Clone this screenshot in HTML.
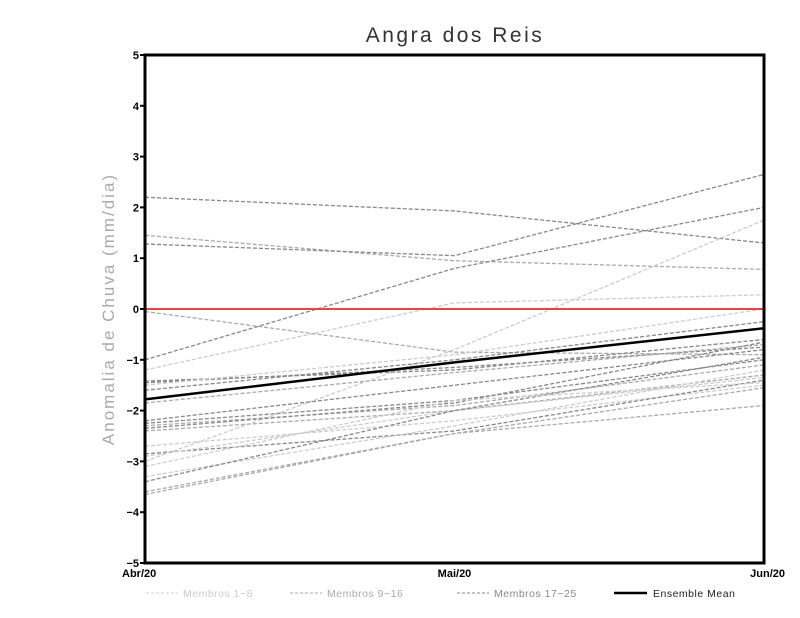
<!DOCTYPE html>
<html><head><meta charset="utf-8"><style>
body{margin:0;background:#fff}
svg{display:block;font-family:"Liberation Sans",sans-serif}
</style></head><body>
<svg id="chart" width="800" height="618" viewBox="0 0 800 618">
<text x="455" y="42" text-anchor="middle" font-size="21" fill="#333" letter-spacing="2.5">Angra dos Reis</text>
<text transform="translate(114,309) rotate(-90)" text-anchor="middle" font-size="17" fill="#aaa" letter-spacing="2">Anomalia de Chuva (mm/dia)</text>
<g id="yticks"></g>
<g id="xticks"></g>
<g id="series"></g>
<line x1="145" y1="309" x2="764" y2="309" stroke="#f04040" stroke-width="2"/>
<g id="meang"></g>
<rect x="145" y="55" width="619" height="508" fill="none" stroke="#000" stroke-width="3"/>
<g font-size="10.5" letter-spacing="0.5">
<line x1="146" y1="593" x2="178" y2="593" stroke="#ccc" stroke-dasharray="3,2"/>
<text x="183" y="597" fill="#ccc">Membros 1−8</text>
<line x1="290" y1="593" x2="322" y2="593" stroke="#aaa" stroke-dasharray="3,2"/>
<text x="327" y="597" fill="#aaa">Membros 9−16</text>
<line x1="457" y1="593" x2="489" y2="593" stroke="#888" stroke-dasharray="3,2"/>
<text x="494" y="597" fill="#888">Membros 17−25</text>
<line x1="614" y1="593" x2="647" y2="593" stroke="#000" stroke-width="2.5"/>
<text x="653" y="597" fill="#222">Ensemble Mean</text>
</g>
</svg>
<script>
const categories = ["Abr/20","Mai/20","Jun/20"];
const yTickValues = [-5,-4,-3,-2,-1,0,1,2,3,4,5];
const yTickLabels = ["−5","−4","−3","−2","−1","0","1","2","3","4","5"];
const memberGroups = [3,2,3,3,1,2,1,3,3,1,3,2,3,3,2,3,2,1,3,1,1,3,2,2,1];
const members = [
[2.2,1.93,1.3],[1.45,0.95,0.78],[1.28,1.05,2.65],[-1.0,0.8,2.0],[-1.2,0.12,0.28],
[-0.05,-0.85,-0.9],[-3.0,-0.8,1.75],[-1.42,-1.2,-0.6],[-1.45,-1.15,-0.75],[-1.5,-0.9,0.0],
[-1.6,-1.0,-0.25],[-1.85,-1.25,-0.7],[-2.2,-1.5,-0.8],[-2.25,-1.8,-1.0],[-2.3,-1.9,-1.1],
[-2.35,-1.85,-0.65],[-2.4,-2.0,-1.3],[-2.7,-2.2,-1.5],[-2.85,-2.4,-1.4],[-2.9,-2.0,-1.35],
[-3.3,-2.3,-1.2],[-3.4,-2.0,-0.95],[-3.6,-2.45,-1.55],[-3.65,-2.45,-1.9],[-3.1,-1.8,-1.45]
];
const ensembleMean = [-1.78,-1.05,-0.38];

const NS="http://www.w3.org/2000/svg";
const X0=145,X1=764,Y0=563,Y1=55;
function xs(i){return X0+(X1-X0)*i/(categories.length-1);}
function ys(v){return Y0-(v+5)/10*(Y0-Y1);}
const groupColor={1:"#cccccc",2:"#aaaaaa",3:"#888888"};
function mk(t,a,p){const e=document.createElementNS(NS,t);for(const k in a)e.setAttribute(k,a[k]);p.appendChild(e);return e;}
const yt=document.getElementById("yticks");
yTickValues.forEach((v,i)=>{
  const l=mk("line",{x1:140,x2:145,y1:ys(v),y2:ys(v),stroke:"#000","stroke-width":2},yt);
  
  
  const t=mk("text",{x:139,y:ys(v)+4,"text-anchor":"end","font-size":11,"font-weight":"bold"},yt);
  t.textContent=yTickLabels[i];
  
  
});
const xt=document.getElementById("xticks");
categories.forEach((c,i)=>{
  const anchor=i===0?"start":(i===categories.length-1?"end":"middle");
  const xx=i===0?122:(i===categories.length-1?785:xs(i));
  const t=mk("text",{x:xx,y:577,"text-anchor":anchor,"font-size":11,"font-weight":"bold"},xt);
  t.textContent=c;
  
  
});
const sg=document.getElementById("series");
members.forEach((m,k)=>{
  const p=mk("polyline",{points:m.map((v,i)=>xs(i)+","+ys(v)).join(" "),fill:"none",stroke:groupColor[memberGroups[k]],"stroke-width":1.3,"stroke-dasharray":"4,2"},sg);
  
  
});
const mp=mk("polyline",{points:ensembleMean.map((v,i)=>xs(i)+","+ys(v)).join(" "),fill:"none",stroke:"#000","stroke-width":2.5},document.getElementById("meang"));


</script>
</body></html>
